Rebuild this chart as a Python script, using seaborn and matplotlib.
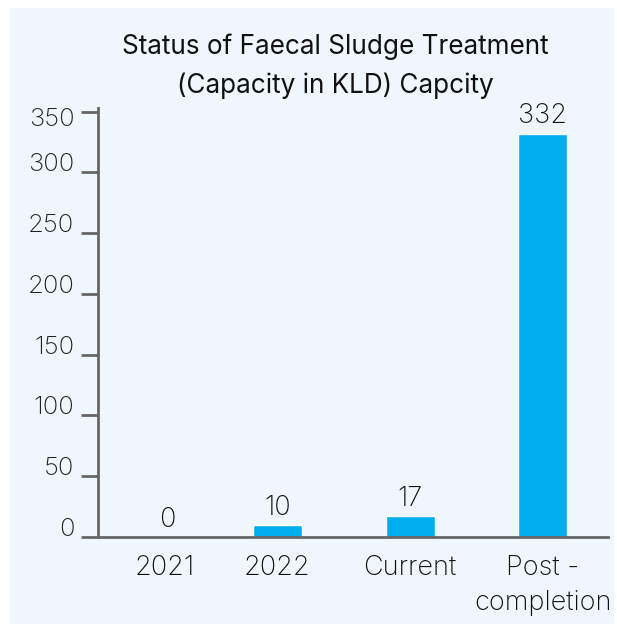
import matplotlib
matplotlib.use("Agg")
import matplotlib.pyplot as plt
import matplotlib.transforms as mtransforms
from matplotlib.patches import Rectangle
import seaborn as sns
import pandas as pd

categories = ["2021", "2022", "Current", "Post -\ncompletion"]
values = [0, 10, 17, 332]
yticks = [0, 50, 100, 150, 200, 250, 300, 350]
title = "Status of Faecal Sludge Treatment\n(Capacity in KLD) Capcity"

BG = "#EFF7FD"
BAR = "#00AEEF"
AXC = "#666666"

sns.set_theme(style="white")
plt.rcParams["font.family"] = ["Inter", "DejaVu Sans"]

fig = plt.figure(figsize=(6.17, 6.24), dpi=100)
fig.patch.set_facecolor("white")
fig.patches.append(Rectangle((10 / 617, 0.0), 604 / 617, 1 - 8 / 624,
                             transform=fig.transFigure, facecolor=BG,
                             edgecolor="none", zorder=-10))

ax = fig.add_axes([98 / 617, 1 - 537 / 624, 510 / 617, (537 - 108) / 624])
ax.set_facecolor("none")

df = pd.DataFrame({"cat": categories, "val": values})
sns.barplot(data=df, x="cat", y="val", color=BAR, width=0.37, ax=ax,
            saturation=1)

ax.set_xlim(-0.35, 3.49)
ax.set_ylim(0, 353)
ax.set_xlabel("")
ax.set_ylabel("")

for s in ["top", "right"]:
    ax.spines[s].set_visible(False)
for s in ["left", "bottom"]:
    ax.spines[s].set_color(AXC)
    ax.spines[s].set_linewidth(2)

ax.set_yticks(yticks)
ax.set_yticklabels([str(t) for t in yticks])
ax.tick_params(axis="y", direction="out", length=12, width=2, color=AXC,
               labelsize=18.5, labelcolor="#222222", pad=5, left=True)
ax.tick_params(axis="x", length=0, labelsize=19.5, labelcolor="#111111", pad=13)

for lab in ax.get_yticklabels():
    lab.set_fontweight("light")
    dy = 10 if lab.get_text() != "350" else -5
    lab.set_transform(lab.get_transform() +
                      mtransforms.ScaledTranslation(0, dy / 100, fig.dpi_scale_trans))

for i, lab in enumerate(ax.get_xticklabels()):
    lab.set_fontweight("light")
    lab.set_linespacing(1.45)
    if i == 0:
        lab.set_transform(lab.get_transform() +
                          mtransforms.ScaledTranslation(20 / 100, 0, fig.dpi_scale_trans))

for i, v in enumerate(values):
    dx = 23 if i == 0 else 0
    ax.annotate(str(v), xy=(i, v), xytext=(dx * 0.72, 3), textcoords="offset points",
                ha="center", va="bottom", fontsize=19.5, fontweight="light",
                color="#111111")

fig.text(335 / 617, 1 - 66.5 / 624, title, ha="center", va="center",
         fontsize=18.8, linespacing=1.6, color="#111111")

fig.savefig("out.png", dpi=100, facecolor=fig.get_facecolor())
